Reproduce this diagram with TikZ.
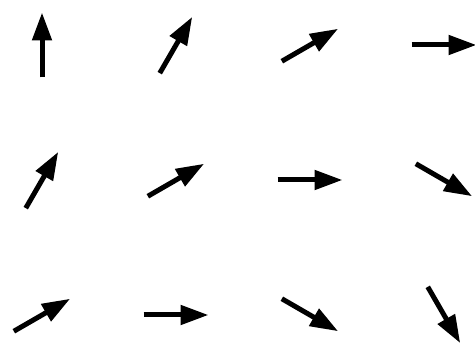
\documentclass[tikz,border=0pt]{standalone}
\usetikzlibrary{arrows.meta}
\begin{document}
\begin{tikzpicture}[x=1pt,y=1pt,
  vec/.style={line width=5pt, black, -{Triangle[length=28pt,width=19pt]}}]
\useasboundingbox (0,0) rectangle (475,351);
\foreach \r in {0,1,2} {
  \foreach \c in {0,1,2,3} {
    \pgfmathsetmacro\a{90-30*(\r+\c)}
    \pgfmathsetmacro\cx{42+134*\c}
    \pgfmathsetmacro\cy{306-135*\r}
    \draw[vec, shift={(\cx,\cy)}] (\a+180:32.5pt) -- (\a:32.5pt);
  }
}
\end{tikzpicture}
\end{document}
